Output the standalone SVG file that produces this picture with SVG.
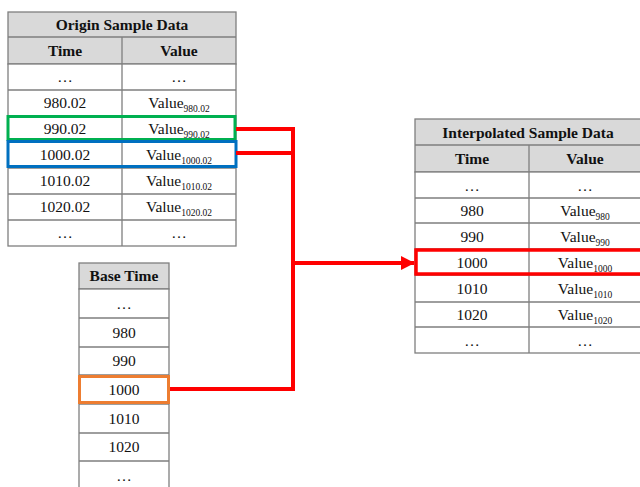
<svg xmlns="http://www.w3.org/2000/svg" width="640" height="487" viewBox="0 0 640 487">
<defs>
<style>
.cell{fill:#fff;stroke:#7f7f7f;stroke-width:1.3}
.hdr{fill:#d9d9d9;stroke:#7f7f7f;stroke-width:1.3}
.ln{stroke:#7f7f7f;stroke-width:1.3;fill:none}
text{font-family:"Liberation Serif","Times New Roman",serif;font-size:15.5px;fill:#111;text-anchor:middle}
.b{font-weight:bold}
.sub{font-size:9.5px}
.conn{stroke:#ff0000;stroke-width:4;fill:none}
</style>
<marker id="ah" markerWidth="3.5" markerHeight="3.5" refX="3.3" refY="1.75" orient="auto" markerUnits="strokeWidth">
<path d="M0,0 L3.5,1.75 L0,3.5 Z" fill="#ff0000"/>
</marker>
</defs>
<rect width="640" height="487" fill="#fff"/>

<g id="origin">
<rect class="hdr" x="8" y="12" width="228" height="52"/>
<rect class="cell" x="8" y="64" width="228" height="182"/>
<path class="ln" d="M8,37H236 M122,37V246 M8,90H236 M8,116H236 M8,142H236 M8,168H236 M8,194H236 M8,220H236"/>
<text class="b" x="122" y="30">Origin Sample Data</text>
<text class="b" x="65" y="56">Time</text>
<text class="b" x="179" y="56">Value</text>
<text x="65" y="82">…</text><text x="179" y="82">…</text>
<text x="65" y="108">980.02</text><text x="179" y="108">Value<tspan class="sub" dy="4">980.02</tspan></text>
<text x="65" y="134">990.02</text><text x="179" y="134">Value<tspan class="sub" dy="4">990.02</tspan></text>
<text x="65" y="160">1000.02</text><text x="179" y="160">Value<tspan class="sub" dy="4">1000.02</tspan></text>
<text x="65" y="186">1010.02</text><text x="179" y="186">Value<tspan class="sub" dy="4">1010.02</tspan></text>
<text x="65" y="212">1020.02</text><text x="179" y="212">Value<tspan class="sub" dy="4">1020.02</tspan></text>
<text x="65" y="238">…</text><text x="179" y="238">…</text>
<rect x="8" y="116.5" width="227" height="23" fill="none" stroke="#00b050" stroke-width="3"/>
<rect x="8" y="141.5" width="228" height="25" fill="none" stroke="#0070c0" stroke-width="3"/>
</g>

<g id="basetime">
<rect class="hdr" x="79" y="263" width="90" height="26"/>
<rect class="cell" x="79" y="289" width="90" height="200"/>
<path class="ln" d="M79,318H169 M79,347H169 M79,375H169 M79,404H169 M79,433H169 M79,461H169"/>
<text class="b" x="124" y="281">Base Time</text>
<text x="124" y="309">…</text>
<text x="124" y="338">980</text>
<text x="124" y="366">990</text>
<text x="124" y="395">1000</text>
<text x="124" y="424">1010</text>
<text x="124" y="452">1020</text>
<text x="124" y="481">…</text>
<rect x="79.5" y="376.5" width="89" height="26" fill="none" stroke="#ed7d31" stroke-width="3"/>
</g>

<g id="interp">
<rect class="hdr" x="415" y="119" width="226" height="53"/>
<rect class="cell" x="415" y="172" width="226" height="181"/>
<path class="ln" d="M415,145H641 M529,145V353 M415,198H641 M415,223H641 M415,249H641 M415,275H641 M415,302H641 M415,327H641"/>
<text class="b" x="528" y="138">Interpolated Sample Data</text>
<text class="b" x="472" y="164">Time</text>
<text class="b" x="585" y="164">Value</text>
<text x="472" y="191">…</text><text x="585" y="191">…</text>
<text x="472" y="216">980</text><text x="585" y="216">Value<tspan class="sub" dy="4">980</tspan></text>
<text x="472" y="242">990</text><text x="585" y="242">Value<tspan class="sub" dy="4">990</tspan></text>
<text x="472" y="268">1000</text><text x="585" y="268">Value<tspan class="sub" dy="4">1000</tspan></text>
<text x="472" y="294">1010</text><text x="585" y="294">Value<tspan class="sub" dy="4">1010</tspan></text>
<text x="472" y="320">1020</text><text x="585" y="320">Value<tspan class="sub" dy="4">1020</tspan></text>
<text x="472" y="346">…</text><text x="585" y="346">…</text>
<rect x="416" y="250" width="226" height="24" fill="none" stroke="#ff0000" stroke-width="3.5"/>
</g>

<g id="connectors">
<path class="conn" d="M236,129H293V389H170"/>
<path class="conn" d="M236,153H293"/>
<path class="conn" d="M293,263H414" marker-end="url(#ah)"/>
</g>
</svg>
